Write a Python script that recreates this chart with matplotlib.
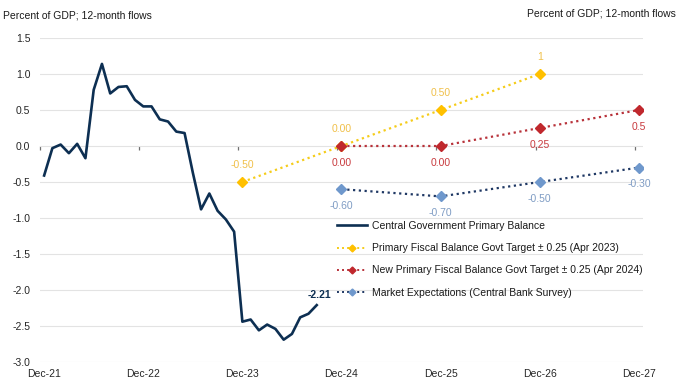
import matplotlib
matplotlib.use("Agg")
import matplotlib.pyplot as plt
from matplotlib.lines import Line2D

plt.rcParams['font.family'] = ['Liberation Sans', 'DejaVu Sans']

# ---- data ----
# monthly series, Dec-21 .. Sep-24 (month index 0 = Dec-21)
primary_balance = [-0.41, -0.03, 0.02, -0.10, 0.03, -0.17, 0.78, 1.14, 0.73, 0.82,
                   0.83, 0.64, 0.55, 0.55, 0.37, 0.34, 0.20, 0.18, -0.37, -0.88,
                   -0.66, -0.90, -1.02, -1.19, -2.44, -2.41, -2.56, -2.48, -2.54,
                   -2.69, -2.61, -2.38, -2.33, -2.21]
year_labels = ['Dec-21', 'Dec-22', 'Dec-23', 'Dec-24', 'Dec-25', 'Dec-26', 'Dec-27']

target_2023_years = ['Dec-23', 'Dec-24', 'Dec-25', 'Dec-26']
target_2023 = [-0.50, 0.00, 0.50, 1.00]
target_2023_text = ['-0.50', '0.00', '0.50', '1']

target_2024_years = ['Dec-24', 'Dec-25', 'Dec-26', 'Dec-27']
target_2024 = [0.00, 0.00, 0.25, 0.50]
target_2024_text = ['0.00', '0.00', '0.25', '0.5']

market_years = ['Dec-24', 'Dec-25', 'Dec-26', 'Dec-27']
market_exp = [-0.60, -0.70, -0.50, -0.30]
market_text = ['-0.60', '-0.70', '-0.50', '-0.30']

series_names = ['Central Government Primary Balance',
                'Primary Fiscal Balance Govt Target \u00b1 0.25 (Apr 2023)',
                'New Primary Fiscal Balance Govt Target \u00b1 0.25 (Apr 2024)',
                'Market Expectations (Central Bank Survey)']
unit_text = 'Percent of GDP; 12-month flows'

# ---- styles ----
NAVY = '#0d2f52'
YEL_M, YEL_L, YEL_T = '#ffc000', '#f5cc1a', '#f0c04a'
RED_M, RED_L, RED_T = '#c0282d', '#b8323a', '#c83a3e'
BLU_M, BLU_L, BLU_T = '#6f98cc', '#1f3864', '#7f9cc4'
FS = 7.5

def year_pos(lbl):
    return 12 * year_labels.index(lbl)

fig = plt.figure(figsize=(6.8, 3.9), dpi=100)
ax = fig.add_axes([40/680, 1-362/390, (643-40)/680, (362-38)/390])

months = list(range(len(primary_balance)))
ax.plot(months, primary_balance, color=NAVY, lw=1.9, solid_joinstyle='round', zorder=5)
ax.annotate('-2.21', (months[-1], primary_balance[-1]), xytext=(2, 7),
            textcoords='offset points', ha='center', va='center',
            fontsize=FS, fontweight='bold', color=NAVY)

def dotted(years, vals, texts, lc, mc, tc, dy):
    xs = [year_pos(y) for y in years]
    ax.plot(xs, vals, color=lc, lw=1.6, ls=(0, (1, 1.6)), zorder=4)
    ax.plot(xs, vals, ls='none', marker='D', ms=5.2, color=mc, zorder=6)
    for x, v, t in zip(xs, vals, texts):
        ax.annotate(t, (x, v), xytext=(0, dy), textcoords='offset points',
                    ha='center', va='center', fontsize=FS, color=tc)

dotted(target_2023_years, target_2023, target_2023_text, YEL_L, YEL_M, YEL_T, 12)
dotted(target_2024_years, target_2024, target_2024_text, RED_L, RED_M, RED_T, -12)
dotted(market_years, market_exp, market_text, BLU_L, BLU_M, BLU_T, -12)

ax.set_xlim(-0.5, 72.5)
ax.set_ylim(-3.0, 1.5)
ax.set_yticks([1.5, 1.0, 0.5, 0.0, -0.5, -1.0, -1.5, -2.0, -2.5, -3.0])
ax.yaxis.set_major_formatter(matplotlib.ticker.FormatStrFormatter('%.1f'))
ax.set_xticks([12 * i for i in range(len(year_labels))])
ax.set_xticklabels(year_labels)
ax.tick_params(axis='both', length=0, labelsize=FS, labelcolor='#262626')
ax.tick_params(axis='y', pad=7)
ax.tick_params(axis='x', pad=5)
ax.grid(axis='y', color='#e3e3e3', lw=0.8)
ax.set_axisbelow(True)
for s in ax.spines.values():
    s.set_visible(False)

# zero axis with tick marks at year boundaries
zero_frac = (0 - (-3.0)) / (1.5 - (-3.0))
sec = ax.secondary_xaxis(zero_frac)
sec.set_xticks([12 * i - 0.5 for i in range(len(year_labels))])
sec.set_xticklabels([])
sec.tick_params(axis='x', direction='out', length=3, color='#707070', width=0.9)
sec.spines['bottom'].set_color('#707070')
sec.spines['bottom'].set_linewidth(1.0)
sec.xaxis.set_ticks_position('bottom')
sec.spines['top'].set_visible(False)

# legend
handles = [
    Line2D([], [], color=NAVY, lw=1.9),
    Line2D([], [], color=YEL_L, lw=1.4, ls=(0, (1, 1.6)), marker='D', ms=3.5,
           mfc=YEL_M, mec=YEL_M),
    Line2D([], [], color=RED_L, lw=1.4, ls=(0, (1, 1.6)), marker='D', ms=3.5,
           mfc=RED_M, mec=RED_M),
    Line2D([], [], color=BLU_L, lw=1.4, ls=(0, (1, 1.6)), marker='D', ms=3.5,
           mfc=BLU_M, mec=BLU_M),
]
leg = fig.legend(handles, series_names, loc='upper left',
                 bbox_to_anchor=(337/680, 1-221/390), frameon=False,
                 fontsize=FS, handlelength=2.9, handletextpad=0.45,
                 labelspacing=1.17, borderpad=0, borderaxespad=0,
                 numpoints=1, labelcolor='#1a1a1a')

fig.text(3/680, 1-16/390, unit_text, ha='left', va='center', fontsize=FS, color='#1a1a1a')
fig.text(676/680, 1-14/390, unit_text, ha='right', va='center', fontsize=FS, color='#1a1a1a')

fig.savefig('out.png', dpi=100)
